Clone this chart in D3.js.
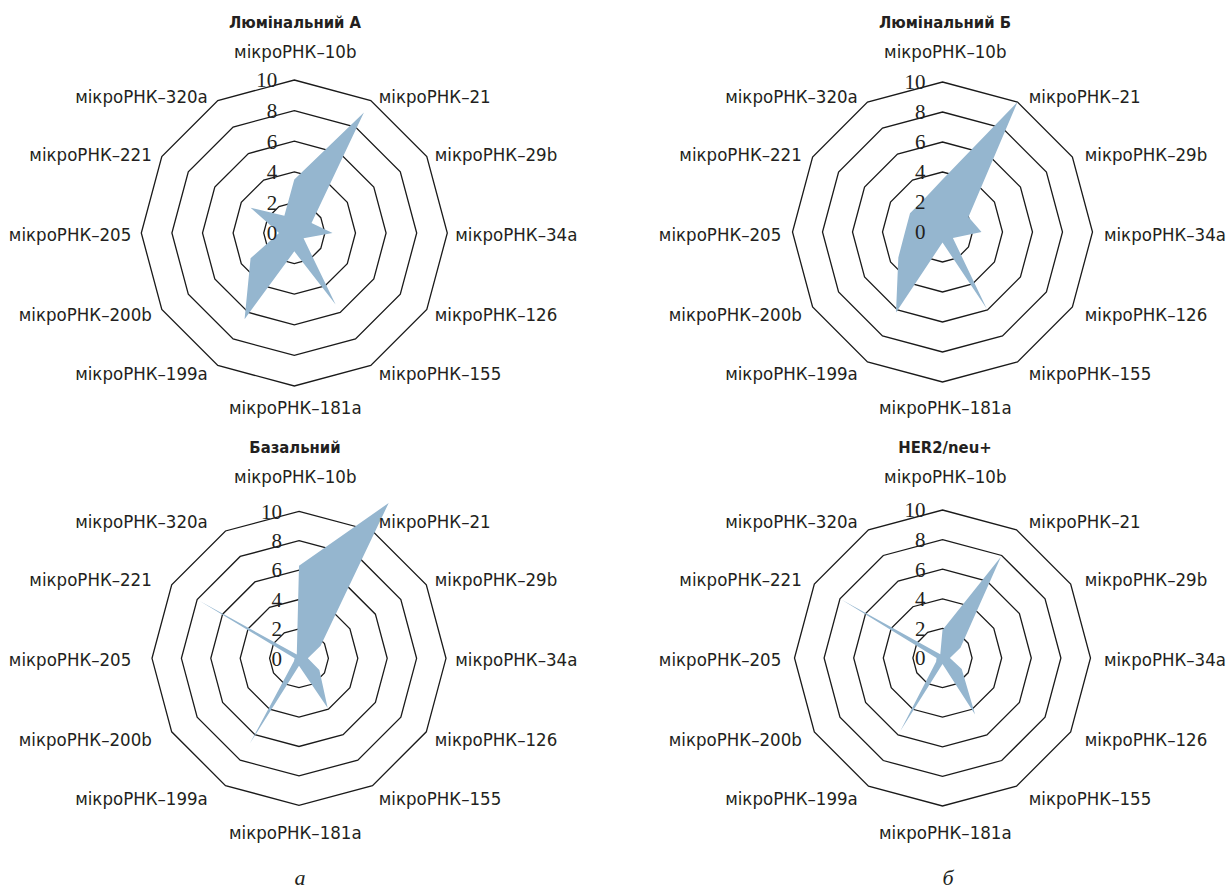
<!DOCTYPE html>
<html>
<head>
<meta charset="utf-8">
<script src="https://cdn.jsdelivr.net/npm/d3@7"></script>
<style>
  html, body { margin: 0; padding: 0; background: #ffffff; }
  svg { display: block; }
</style>
</head>
<body>
<svg id="chart" width="1232" height="891"></svg>
<script>
// Axes of every radar, clockwise from the top
const axisLabels = [
  "мікроРНК–10b", "мікроРНК–21", "мікроРНК–29b", "мікроРНК–34a",
  "мікроРНК–126", "мікроРНК–155", "мікроРНК–181a", "мікроРНК–199a",
  "мікроРНК–200b", "мікроРНК–205", "мікроРНК–221", "мікроРНК–320a"
];
const ringTicks = [0, 2, 4, 6, 8, 10];
const panelTitles = ["Люмінальний А", "Люмінальний Б", "Базальний", "HER2/neu+"];
const captions = ["а", "б"];

// Relative expression per subtype, in axis order
const luminalA = [3.5, 9.1, 1.3, 2.5, 0.7, 5.4, 1.2, 6.5, 3.3, 1.0, 3.3, 1.3];
const luminalB = [3.5, 10.0, 2.0, 2.6, 0.8, 5.9, 0.7, 6.2, 3.4, 2.5, 2.5, 2.5];
const basal    = [6.3, 12.2, 1.7, 0.6, 1.6, 3.9, 0.5, 6.7, 0.4, 0.3, 7.8, 0.3];
const her2     = [1.9, 7.9, 1.4, 0.5, 1.5, 4.4, 0.4, 5.7, 0.5, 0.4, 7.9, 0.3];

const seriesList = [luminalA, luminalB, basal, her2];

// Panel geometry: plot centre/radius and the frame offset used for labels
const panels = [
  { cx: 294.3, cy: 233,   r: 153, ox: 0,   oy: 0   },
  { cx: 942.5, cy: 232,   r: 150, ox: 650, oy: 0   },
  { cx: 299,   cy: 658.3, r: 147, ox: 0,   oy: 425 },
  { cx: 942.5, cy: 658,   r: 148, ox: 650, oy: 425 }
];

const W = 1232;
const svg = d3.select("#chart");
const sansFont = "'DejaVu Sans Condensed', 'Liberation Sans', Arial, sans-serif";
const serifFont = "'Liberation Serif', 'DejaVu Serif', serif";
const fillColor = "#95b6cf";
const inkColor = "#231f20";

const n = axisLabels.length;
const angleOf = i => i * 2 * Math.PI / n;

panels.forEach((p, k) => {
  const values = seriesList[k];
  const r = d3.scaleLinear().domain([0, 10]).range([0, p.r]);
  const g = svg.append("g");

  // grid rings (12-gons)
  const ringLine = d3.lineRadial()
    .angle((d, i) => angleOf(i))
    .radius(d => d)
    .curve(d3.curveLinearClosed);

  g.selectAll("path.ring")
    .data(ringTicks.filter(t => t > 0))
    .join("path")
    .attr("class", "ring")
    .attr("transform", `translate(${p.cx},${p.cy})`)
    .attr("d", t => ringLine(axisLabels.map(() => r(t))))
    .attr("fill", "none")
    .attr("stroke", "#1a1a1a")
    .attr("stroke-width", 1.3);

  // filled series
  const area = d3.lineRadial()
    .angle((d, i) => angleOf(i))
    .radius(d => r(d))
    .curve(d3.curveLinearClosed);

  g.append("path")
    .attr("transform", `translate(${p.cx},${p.cy})`)
    .attr("d", area(values))
    .attr("fill", fillColor)
    .attr("stroke", "none");

  // value ticks along the top axis
  g.selectAll("text.tick")
    .data(ringTicks)
    .join("text")
    .attr("class", "tick")
    .attr("x", p.cx - 17)
    .attr("y", t => p.cy - r(t))
    .attr("dy", "0.35em")
    .attr("text-anchor", "end")
    .attr("font-family", serifFont)
    .attr("font-size", 21)
    .attr("fill", inkColor)
    .text(t => t);

  // axis labels, positioned around the frame
  const fx = 294.3 + p.ox, fy = 233 + p.oy, lr = 153;
  axisLabels.forEach((lab, i) => {
    const a = angleOf(i);
    const s = Math.sin(a), c = Math.cos(a);
    let x, y, anchor;
    if (Math.abs(s) < 1e-6) {
      x = fx + 1;
      y = c > 0 ? fy - lr - 28 : fy + lr + 22;
      anchor = "middle";
    } else {
      x = fx + lr * s + (s > 0 ? 8 : -10);
      y = fy - lr * c + 2 - 7 * c;
      anchor = s > 0 ? "start" : "end";
    }
    const t = g.append("text")
      .attr("x", x)
      .attr("y", y)
      .attr("dy", "0.35em")
      .attr("text-anchor", anchor)
      .attr("font-family", sansFont)
      .attr("font-size", 18.5)
      .attr("fill", inkColor)
      .text(lab);
    // keep labels inside the page
    const len = t.node().getComputedTextLength();
    if (anchor === "start" && x + len > W - 6) t.attr("x", W - 6 - len);
    if (anchor === "end" && x - len < 4) t.attr("x", 4 + len);
  });

  // panel title
  g.append("text")
    .attr("x", 295 + p.ox)
    .attr("y", 22 + p.oy)
    .attr("dy", "0.35em")
    .attr("text-anchor", "middle")
    .attr("font-family", sansFont)
    .attr("font-weight", "bold")
    .attr("font-size", 16.5)
    .attr("fill", inkColor)
    .text(panelTitles[k]);
});

// column captions
svg.selectAll("text.caption")
  .data(captions)
  .join("text")
  .attr("class", "caption")
  .attr("x", (d, i) => i === 0 ? 300 : 948)
  .attr("y", 877)
  .attr("dy", "0.35em")
  .attr("text-anchor", "middle")
  .attr("font-family", serifFont)
  .attr("font-style", "italic")
  .attr("font-size", 22)
  .attr("fill", inkColor)
  .text(d => d);
</script>
</body>
</html>
